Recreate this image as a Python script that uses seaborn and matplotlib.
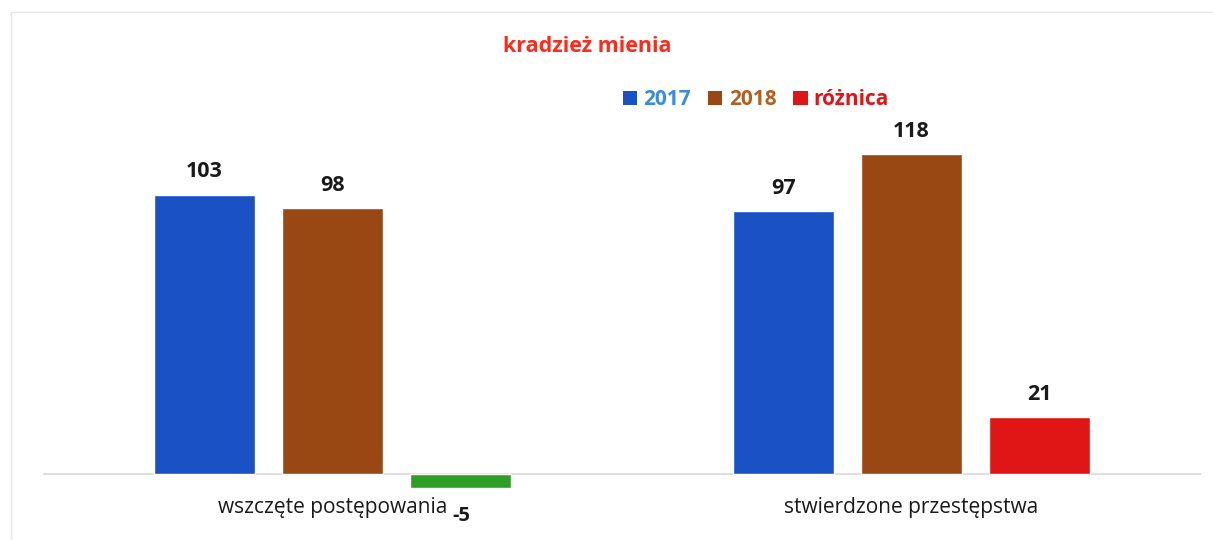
import pandas as pd
import matplotlib
matplotlib.use("Agg")
import matplotlib.pyplot as plt
import seaborn as sns
from matplotlib.patches import Patch, Rectangle

# data
kategorie = ["wszczęte postępowania", "stwierdzone przestępstwa"]
serie = ["2017", "2018", "różnica"]
v2017 = [103, 97]
v2018 = [98, 118]
roznica = [-5, 21]

df = pd.DataFrame({
    "kategoria": kategorie * 3,
    "seria": ["2017"] * 2 + ["2018"] * 2 + ["różnica"] * 2,
    "wartosc": v2017 + v2018 + roznica,
})

kolory = {"2017": "#1a52c6", "2018": "#9a4813", "różnica": "#e01515"}
kolory_tekst = {"2017": "#3b8ae6", "2018": "#b2601f", "różnica": "#e01515"}
zielony = "#2e9e26"

sns.set_style("white")
plt.rcParams["font.family"] = ["Open Sans", "DejaVu Sans"]

fig = plt.figure(figsize=(12.13, 5.4), dpi=100)
# axes bottom ~ y=496 px, baseline at y=474 px
ax = fig.add_axes([43 / 1213, 44.3 / 540, 1158 / 1213, 374 / 540])

sns.barplot(data=df, x="kategoria", y="wartosc", hue="seria", palette=kolory,
            order=kategorie, hue_order=serie, width=0.663, gap=0.21,
            saturation=1, legend=False, ax=ax)

ax.set_ylim(-8, 130)
ax.set_xlim(-0.5, 1.5)

# value labels
for cont in ax.containers:
    for bar in cont:
        h = bar.get_height()
        cx = bar.get_x() + bar.get_width() / 2
        if h < 0:
            bar.set_facecolor(zielony)
            ax.annotate(f"{h:.0f}", (cx, h), xytext=(1, -13), textcoords="offset points",
                        ha="center", va="top", fontsize=14.5, fontweight="bold",
                        color="#1a1a1a")
        else:
            ax.annotate(f"{h:.0f}", (cx, h), xytext=(0, 9), textcoords="offset points",
                        ha="center", va="bottom", fontsize=15.5, fontweight="bold",
                        color="#1a1a1a")

ax.axhline(0, color="#d9d9d9", lw=1.2, zorder=0)
sns.despine(ax=ax, left=True, bottom=True, top=True, right=True)
ax.set_yticks([])
ax.set_xlabel("")
ax.set_ylabel("")
ax.tick_params(axis="x", length=0, pad=1, labelsize=15, labelcolor="#1a1a1a")

fig.text(587 / 1213, 1 - 47 / 540, "kradzież mienia", ha="center", va="center",
         fontsize=15.5, fontweight="bold", color="#ff2a1a")

uchwyty = [Patch(facecolor=kolory[s], edgecolor="none", label=s) for s in serie]
leg = fig.legend(handles=uchwyty, loc="center", bbox_to_anchor=(756 / 1213, 1 - 100 / 540),
                 ncol=3, frameon=False, handlelength=0.7, handleheight=0.7,
                 handletextpad=0.3, columnspacing=0.8,
                 prop={"size": 15, "weight": "bold"})
for t, s in zip(leg.get_texts(), serie):
    t.set_color(kolory_tekst[s])

# light frame around the chart area
fig.patches.append(Rectangle((11 / 1213, -0.05), 1.05, 1 - 12 / 540 + 0.05,
                             transform=fig.transFigure, fill=False,
                             edgecolor="#e4e4e4", lw=1))

fig.savefig("out.png", dpi=100)
